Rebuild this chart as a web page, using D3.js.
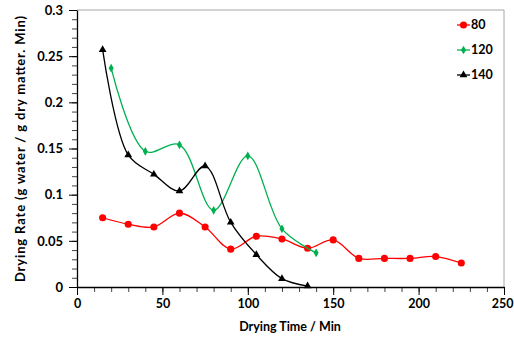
<!DOCTYPE html>
<html>
<head>
<meta charset="utf-8">
<script src="https://cdn.jsdelivr.net/npm/d3@7"></script>
<style>
  body { margin: 0; background: #fff; }
  svg { display: block; font-family: Lato, "Open Sans", sans-serif; font-weight: bold; }
</style>
</head>
<body>
<div id="chart"></div>
<script>
// drying time (min) for each series
const time80 = [15, 30, 45, 60, 75, 90, 105, 120, 135, 150, 165, 180, 195, 210, 225];
const rate80 = [0.075, 0.068, 0.065, 0.080, 0.065, 0.041, 0.055, 0.052, 0.042, 0.051, 0.031, 0.031, 0.031, 0.033, 0.026];

const time120 = [20, 40, 60, 80, 100, 120, 140];
const rate120 = [0.237, 0.147, 0.154, 0.083, 0.142, 0.063, 0.037];

const time140 = [15, 30, 45, 60, 75, 90, 105, 120, 135];
const rate140 = [0.257, 0.143, 0.122, 0.104, 0.131, 0.070, 0.035, 0.009, 0.001];

const seriesNames = ["80", "120", "140"];
const xTicks = [0, 50, 100, 150, 200, 250];
const yTicks = [0, 0.05, 0.1, 0.15, 0.2, 0.25, 0.3];

const width = 514;
const height = 339;
const marginLeft = 77;
const marginRight = 10;
const marginTop = 10;
const marginBottom = 52;

const x = d3.scaleLinear()
  .domain([0, 250])
  .range([marginLeft, width - marginRight]);

const y = d3.scaleLinear()
  .domain([0, 0.3])
  .range([height - marginBottom, marginTop]);

const svg = d3.select("#chart").append("svg")
  .attr("width", width)
  .attr("height", height)
  .attr("viewBox", [0, 0, width, height]);

// plot frame (top + right are grey)
svg.append("path")
  .attr("d", `M${x(0)},${y(0.3)}H${x(250)}V${y(0)}`)
  .attr("fill", "none")
  .attr("stroke", "#a6a6a6")
  .attr("stroke-width", 1);

// minor ticks
svg.append("g")
  .attr("transform", `translate(0,${y(0)})`)
  .call(d3.axisBottom(x).tickValues(d3.range(0, 251, 10)).tickSize(5).tickFormat(""))
  .call(g => g.select(".domain").remove())
  .call(g => g.selectAll("line").attr("stroke", "#444"));

svg.append("g")
  .attr("transform", `translate(${x(0)},0)`)
  .call(d3.axisLeft(y).tickValues(d3.range(0, 0.3001, 0.01)).tickSize(5).tickFormat(""))
  .call(g => g.select(".domain").remove())
  .call(g => g.selectAll("line").attr("stroke", "#444"));

// major axes
svg.append("g")
  .attr("transform", `translate(0,${y(0)})`)
  .call(d3.axisBottom(x).tickValues(xTicks).tickSize(8).tickSizeOuter(0).tickPadding(4))
  .call(g => g.select(".domain").attr("stroke", "#000").attr("stroke-width", 1.3))
  .call(g => g.selectAll("text").style("font-size", "12.5px").style("font-weight", "bold").attr("fill", "#000").attr("font-family", "Lato"))
  .call(g => g.selectAll(".tick:last-of-type text").attr("text-anchor", "end").attr("dx", "9"));

svg.append("g")
  .attr("transform", `translate(${x(0)},0)`)
  .call(d3.axisLeft(y).tickValues(yTicks).tickSize(8).tickSizeOuter(0).tickPadding(6).tickFormat(d => d3.format("")(+d.toFixed(2))))
  .call(g => g.select(".domain").attr("stroke", "#000").attr("stroke-width", 1.3))
  .call(g => g.selectAll("text").style("font-size", "13px").style("font-weight", "bold").attr("fill", "#000").attr("font-family", "Lato"));

// axis titles
svg.append("text")
  .attr("x", 290)
  .attr("y", 331)
  .attr("text-anchor", "middle")
  .style("font-size", "12.5px")
  .text("Drying Time / Min");

svg.append("text")
  .attr("transform", "rotate(-90)")
  .attr("x", -149)
  .attr("y", 25)
  .attr("text-anchor", "middle")
  .attr("textLength", 266)
  .attr("lengthAdjust", "spacing")
  .style("font-size", "13px")
  .text("Drying Rate (g water / g dry matter. Min)");

const series = [
  { name: seriesNames[0], t: time80, v: rate80, color: "#ff0000", symbol: d3.symbolCircle, size: 40 },
  { name: seriesNames[1], t: time120, v: rate120, color: "#00b050", symbol: d3.symbolDiamond, size: 22 },
  { name: seriesNames[2], t: time140, v: rate140, color: "#000000", symbol: d3.symbolTriangle, size: 26 }
];

const line = d3.line()
  .x(d => x(d[0]))
  .y(d => y(d[1]))
  .curve(d3.curveCatmullRom.alpha(0.5));

series.forEach(s => {
  const pts = s.t.map((t, i) => [t, s.v[i]]);
  svg.append("path")
    .datum(pts)
    .attr("d", line)
    .attr("fill", "none")
    .attr("stroke", s.color)
    .attr("stroke-width", 1.3);
  svg.append("g")
    .selectAll("path")
    .data(pts)
    .join("path")
    .attr("transform", d => `translate(${x(d[0])},${y(d[1])})`)
    .attr("d", d3.symbol(s.symbol, s.size))
    .attr("fill", s.color);
});

// legend
const legend = svg.append("g")
  .selectAll("g")
  .data(series)
  .join("g")
  .attr("transform", (d, i) => `translate(457,${25 + i * 25})`);

legend.append("line")
  .attr("x1", 0).attr("x2", 13)
  .attr("stroke", d => d.color)
  .attr("stroke-width", 1.3);

legend.append("path")
  .attr("transform", "translate(6.5,0)")
  .attr("d", d => d3.symbol(d.symbol, d.size)())
  .attr("fill", d => d.color);

legend.append("text")
  .attr("x", 14)
  .attr("dy", "0.35em")
  .style("font-size", "12.5px")
  .text(d => d.name);
</script>
</body>
</html>
